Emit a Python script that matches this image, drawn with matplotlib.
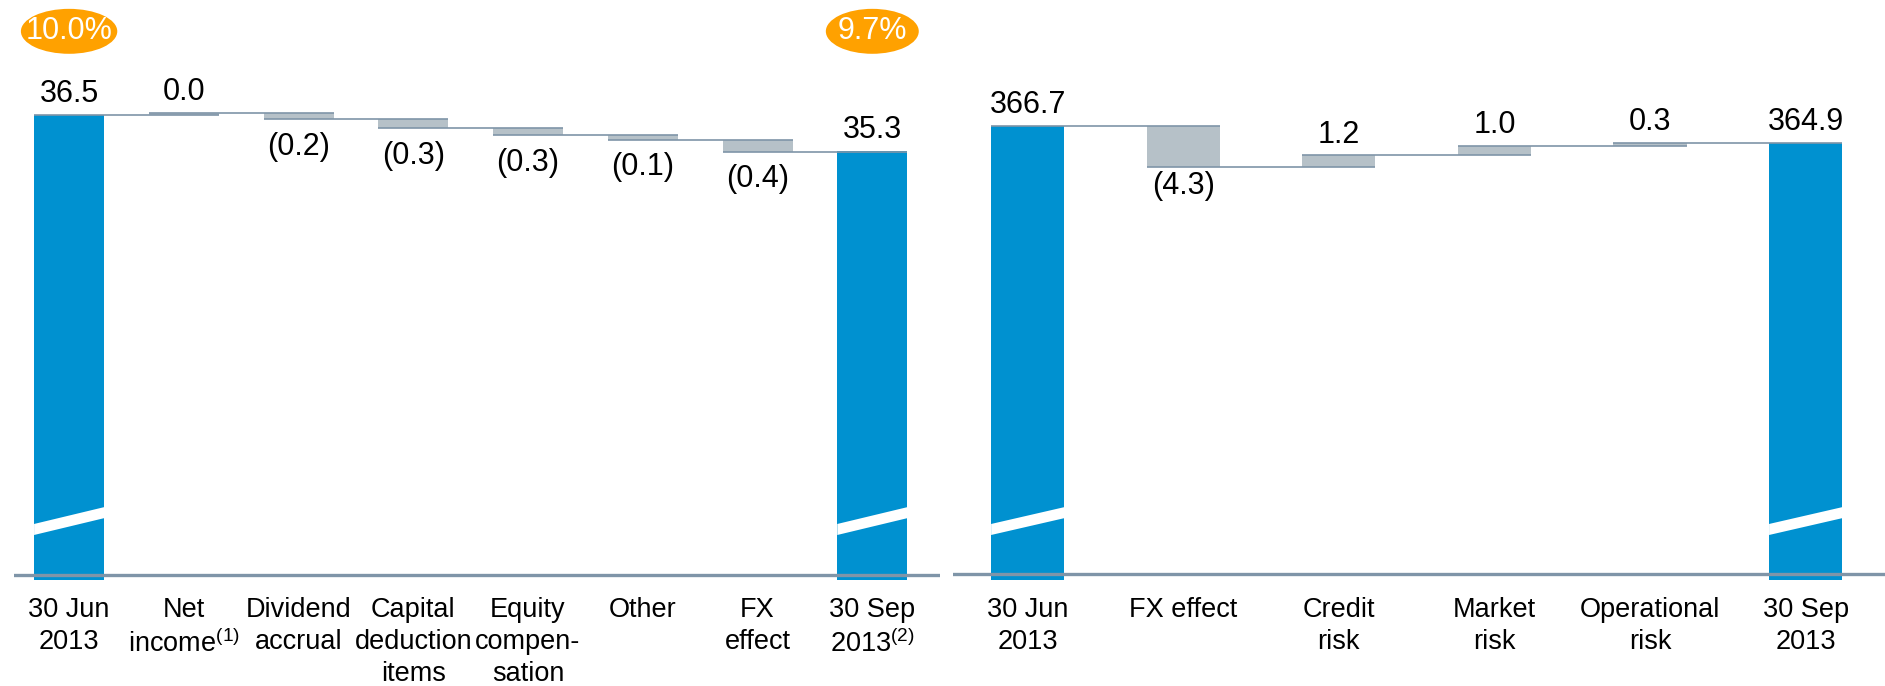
import matplotlib
matplotlib.use("Agg")
import matplotlib.pyplot as plt
import matplotlib.transforms as mtransforms
from matplotlib.patches import Polygon, Ellipse

plt.rcParams['font.family'] = ['Liberation Sans', 'DejaVu Sans']
plt.rcParams['mathtext.fontset'] = 'custom'
plt.rcParams['mathtext.rm'] = 'Liberation Sans'
plt.rcParams['mathtext.it'] = 'Liberation Sans'

# capital bridge (left)
cap_labels = ['30 Jun\n2013', 'Net\nincome$^{(1)}$', 'Dividend\naccrual', 'Capital\ndeduction\nitems',
              'Equity\ncompen-\nsation', 'Other', 'FX\neffect', '30 Sep\n2013$^{(2)}$']
cap_start = 36.5
cap_end = 35.3
cap_steps = [0.07, -0.21, -0.30, -0.23, -0.16, -0.39]
cap_step_text = ['0.0', '(0.2)', '(0.3)', '(0.3)', '(0.1)', '(0.4)']
cap_ratio = ['10.0%', '9.7%']

# risk-weighted assets bridge (right)
rwa_labels = ['30 Jun\n2013', 'FX effect', 'Credit\nrisk', 'Market\nrisk', 'Operational\nrisk', '30 Sep\n2013']
rwa_start = 366.7
rwa_end = 364.9
rwa_steps = [-4.3, 1.2, 1.0, 0.3]
rwa_step_text = ['(4.3)', '1.2', '1.0', '0.3']

BLUE = '#0091D0'
GREY = '#B6C1C8'
LINE = '#7F95A8'
ORANGE = '#FFA100'
VFS = 22
CFS = 19.5


def waterfall(ax, labels, start, end, steps, step_text, width, ylim, base, xlim, below_pad):
    n = len(labels)
    ax.set_xlim(*xlim)
    ax.set_ylim(*ylim)
    ybot = ylim[0]

    ax.bar(0, start - ybot, bottom=ybot, width=width, color=BLUE, zorder=2)
    ax.bar(n - 1, end - ybot, bottom=ybot, width=width, color=BLUE, zorder=2)

    levels = [start]
    for i, s in enumerate(steps):
        lvl = levels[-1]
        ax.bar(i + 1, abs(s), bottom=min(lvl, lvl + s), width=width, color=GREY, zorder=2)
        levels.append(lvl + s)
        if s >= 0:
            ax.annotate(step_text[i], (i + 1, lvl + s), xytext=(0, 4), textcoords='offset points',
                        ha='center', va='bottom', fontsize=VFS)
        else:
            ax.annotate(step_text[i], (i + 1, lvl + s), xytext=(0, -below_pad), textcoords='offset points',
                        ha='center', va='top', fontsize=VFS)

    # connectors
    for i in range(n - 1):
        ax.hlines(levels[i], i - width / 2, i + 1 + width / 2, color=LINE, lw=1.2, zorder=3)

    ax.annotate(f'{start:.1f}', (0, start), xytext=(0, 4), textcoords='offset points',
                ha='center', va='bottom', fontsize=VFS)
    ax.annotate(f'{end:.1f}', (n - 1, end), xytext=(0, 4), textcoords='offset points',
                ha='center', va='bottom', fontsize=VFS)

    ax.axhline(base, color=LINE, lw=2.4, zorder=3)

    # axis break stripes
    trans = mtransforms.blended_transform_factory(ax.transData, ax.transAxes)
    y1, rise, t = 0.0776, 0.029, 0.019
    for x0 in (0, n - 1):
        pts = [(x0 - width / 2, y1), (x0 + width / 2, y1 + rise),
               (x0 + width / 2, y1 + rise + t), (x0 - width / 2, y1 + t)]
        ax.add_patch(Polygon(pts, closed=True, transform=trans, facecolor='white',
                             edgecolor='none', zorder=4))

    ax.set_xticks(range(n))
    ax.set_xticklabels(labels, fontsize=CFS, linespacing=1.3)
    ax.tick_params(axis='x', length=0, pad=12)
    ax.set_yticks([])
    for sp in ax.spines.values():
        sp.set_visible(False)
    return trans


fig = plt.figure(figsize=(18.85, 6.86), dpi=100)
H = 580 / 686
ax1 = fig.add_axes([14 / 1885, 1 - H, 926 / 1885, H])
ax2 = fig.add_axes([953 / 1885, 1 - H, 932 / 1885, H])

tr = waterfall(ax1, cap_labels, cap_start, cap_end, cap_steps, cap_step_text, 0.61,
               (21.0, 40.33), 21.18, (-0.48, 7.59), 9)
waterfall(ax2, rwa_labels, rwa_start, rwa_end, rwa_steps, rwa_step_text, 0.47,
          (318.9, 379.96), 319.5, (-0.48, 5.51), 3)

# CET1 ratio bubbles
for x0, txt, w in [(0, cap_ratio[0], 0.84), (len(cap_labels) - 1, cap_ratio[1], 0.81)]:
    ax1.add_patch(Ellipse((x0, 0.946), w, 0.0775, transform=tr, facecolor=ORANGE,
                          edgecolor='none', zorder=5, clip_on=False))
    ax1.text(x0, 0.946, txt, transform=tr, ha='center', va='center', color='white',
             fontsize=VFS, zorder=6)

fig.savefig('out.png', dpi=100)
